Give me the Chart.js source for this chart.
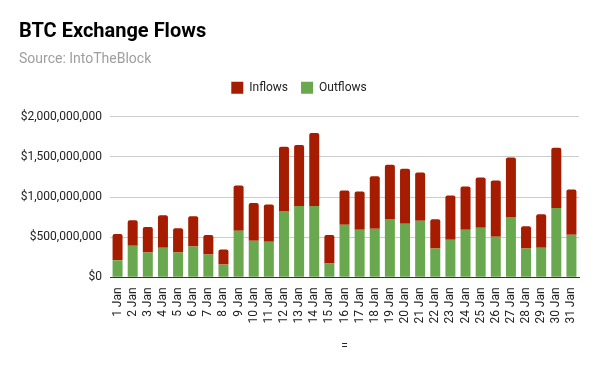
<!DOCTYPE html>
<html>
<head>
<meta charset="utf-8">
<script src="https://cdn.jsdelivr.net/npm/chart.js@4"></script>
<style>
    html, body { margin: 0; padding: 0; background: #fff; }
    #wrap { width: 600px; height: 371px; }
</style>
</head>
<body>
<div id="wrap"><canvas id="flowChart"></canvas></div>
<script>
const days = ['1 Jan', '2 Jan', '3 Jan', '4 Jan', '5 Jan', '6 Jan', '7 Jan', '8 Jan', '9 Jan', '10 Jan',
    '11 Jan', '12 Jan', '13 Jan', '14 Jan', '15 Jan', '16 Jan', '17 Jan', '18 Jan', '19 Jan', '20 Jan',
    '21 Jan', '22 Jan', '23 Jan', '24 Jan', '25 Jan', '26 Jan', '27 Jan', '28 Jan', '29 Jan', '30 Jan', '31 Jan'];

// millions of USD
const outflows = [214, 395, 309, 370, 309, 383, 284, 160, 580, 457,
    444, 827, 889, 889, 173, 654, 593, 605, 728, 667,
    704, 358, 469, 593, 617, 506, 753, 358, 370, 864, 531];
const inflows = [325, 317, 317, 404, 304, 378, 243, 186, 564, 469,
    465, 799, 761, 909, 354, 428, 477, 654, 675, 687,
    601, 366, 552, 539, 626, 700, 741, 280, 416, 749, 564];

const yTicks = [0, 500000000, 1000000000, 1500000000, 2000000000];

const fontFamily = 'Roboto, "Noto Sans", sans-serif';

// extra room under the legend
const legendGap = {
    id: 'legendGap',
    beforeInit(chart) {
        const fit = chart.legend.fit;
        chart.legend.fit = function () {
            fit.bind(this)();
            this.height += 13;
        };
    },
};

const ctx = document.getElementById('flowChart').getContext('2d');
const flowChart = new Chart(ctx, {
    type: 'bar',
    data: {
        labels: days,
        datasets: [{
            label: 'Outflows',
            data: outflows.map(v => v * 1e6),
            backgroundColor: '#6aa84f',
            borderWidth: 0,
            barPercentage: 0.66,
            categoryPercentage: 1,
        }, {
            label: 'Inflows',
            data: inflows.map(v => v * 1e6),
            backgroundColor: '#a61c00',
            borderWidth: 0,
            borderRadius: { topLeft: 2, topRight: 2 },
            borderSkipped: 'bottom',
            barPercentage: 0.66,
            categoryPercentage: 1,
        }],
    },
    plugins: [legendGap],
    options: {
        responsive: true,
        maintainAspectRatio: false,
        animation: false,
        layout: {
            padding: { left: 19, right: 21, top: 14, bottom: 13 },
        },
        plugins: {
            title: {
                display: true,
                text: 'BTC Exchange Flows',
                align: 'start',
                color: '#000',
                font: { family: fontFamily, size: 20, weight: 'bold' },
                padding: { top: 6, bottom: 4 },
            },
            subtitle: {
                display: true,
                text: 'Source: IntoTheBlock',
                align: 'start',
                color: '#9e9e9e',
                font: { family: fontFamily, size: 14 },
                padding: { top: 3, bottom: 1 },
            },
            legend: {
                reverse: true,
                labels: {
                    boxWidth: 12,
                    boxHeight: 12,
                    color: '#222',
                    font: { family: fontFamily, size: 12 },
                    padding: 13,
                },
            },
            tooltip: { enabled: false },
        },
        scales: {
            x: {
                stacked: true,
                grid: { display: false },
                border: { color: '#333', width: 1 },
                ticks: {
                    color: '#222',
                    font: { family: fontFamily, size: 12 },
                    minRotation: 90,
                    maxRotation: 90,
                    autoSkip: false,
                    padding: 2,
                },
                title: {
                    display: true,
                    text: '=',
                    color: '#222',
                    font: { family: fontFamily, size: 12 },
                    padding: { top: 14 },
                },
            },
            y: {
                stacked: true,
                min: 0,
                max: 2000000000,
                afterBuildTicks: axis => { axis.ticks = yTicks.map(v => ({ value: v })); },
                afterFit: axis => { axis.width = 91; },
                grid: { color: '#cccccc', drawTicks: false },
                border: { display: false },
                ticks: {
                    color: '#222',
                    font: { family: fontFamily, size: 12 },
                    padding: 8,
                    callback: v => '$' + Number(v).toLocaleString('en-US'),
                },
            },
        },
    },
});
</script>
</body>
</html>
